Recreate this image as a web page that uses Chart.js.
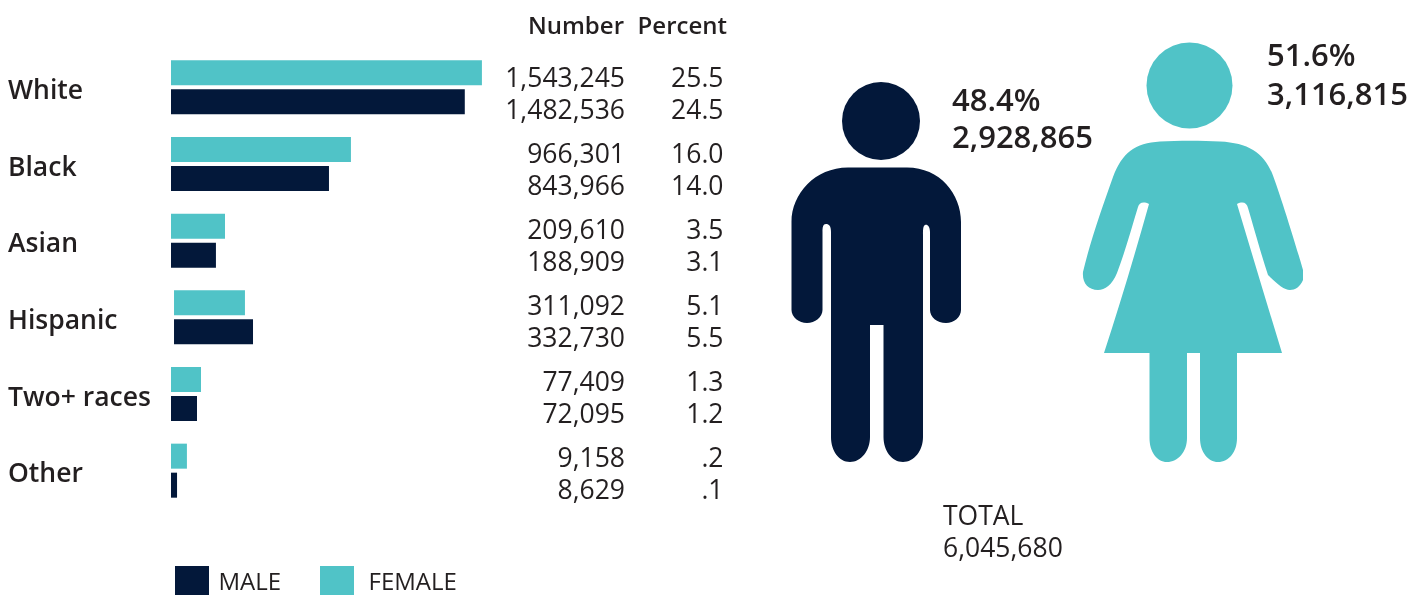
<!DOCTYPE html>
<html>
<head>
<meta charset="utf-8">
<script src="https://cdn.jsdelivr.net/npm/chart.js@4/dist/chart.umd.min.js"></script>
<style>
  html, body { margin: 0; padding: 0; background: #fff; }
  #page { position: relative; width: 1424px; height: 595px; overflow: hidden; font-family: "Open Sans", sans-serif; color: #231f20; }
  #page canvas { position: absolute; left: 0; top: 0; }
  #page svg { position: absolute; left: 0; top: 0; }
  .t { position: absolute; white-space: nowrap; line-height: 1; transform: translateY(-50%); }
  .num { font-size: 26.5px; }
  .head { font-size: 24px; font-weight: 600; }
  .big { font-size: 31px; font-weight: 600; }
  .leg { font-size: 24px; }
  .box { position: absolute; top: 566px; width: 34px; height: 29px; }
</style>
</head>
<body>
<div id="page">
  <canvas id="bars" width="574" height="595"></canvas>
  <svg width="1424" height="595" viewBox="0 0 1424 595">
    <g fill="#03183a">
      <circle cx="881" cy="121" r="39"/>
      <path d="M848 167.5 H907 C940 167.5 961 194 961 222 V310 C961 317 954 323 946 323 C937 323 930 317 930 310 V232 C930 226 927 224 925 225 C923 226 923 230 923 235 V437 C923 451 914 462 903 462 C892 462 883.5 451 883.5 437 V325 H870 V437 C870 451 861 462 850 462 C839 462 831 451 831 437 V232 C831 226 829 224 826 224 C823 224 822.5 227 822.5 232 V310 C822.5 317 815 323 807 323 C799 323 791.5 317 791.5 310 V222 C791.5 194 815 167.5 848 167.5 Z"/>
    </g>
    <g fill="#50c3c7">
      <circle cx="1189.5" cy="85.5" r="43"/>
      <path d="M1160 141.5 C1178 140.5 1202 140.5 1220 141.5 C1248 143 1263 152 1272 173 C1280 194 1295 242 1303 270 V280 C1300 287 1295 290 1290 290 C1284 290 1277 284 1268 275 C1261 254 1254 228 1248 208 C1247 203 1243 201 1237 204 C1252 254 1267 304 1282 353 H1237 V438 C1237 452 1229 462 1218 462 C1208 462 1200 452 1200 438 V353 H1187 V438 C1187 452 1178 462 1167 462 C1157 462 1149.5 452 1149.5 438 V353 H1104 C1120 304 1135 254 1149 204 C1143 201 1139 203 1138 207 C1131 230 1125 252 1117 273 C1112 285 1105 290 1098 290 C1088 290 1082 283 1083 272 C1090 242 1103 205 1113 177 C1122 153 1135 143 1160 141.5 Z"/>
    </g>
  </svg>
  <div id="labels"></div>
</div>
<script>
// rows, top to bottom
var categories = ['White', 'Black', 'Asian', 'Hispanic', 'Two+ races', 'Other'];

// printed columns, each row is female then male
var femaleNumbers = ['1,543,245', '966,301', '209,610', '311,092', '77,409', '9,158'];
var maleNumbers = ['1,482,536', '843,966', '188,909', '332,730', '72,095', '8,629'];
var femalePercent = ['25.5', '16.0', '3.5', '5.1', '1.3', '.2'];
var malePercent = ['24.5', '14.0', '3.1', '5.5', '1.2', '.1'];

// bar lengths as drawn, in thousands. the bars are not
// strictly in proportion to the printed numbers, and Hispanic starts a bit late
var femaleBars = [1543, 893, 268, [15, 367], 149, 79];
var maleBars = [1458, 784, 223, [15, 407], 129, 30];

var totals = { male: ['48.4%', '2,928,865'], female: ['51.6%', '3,116,815'], all: ['TOTAL', '6,045,680'] };
var maleColor = '#03183a';
var femaleColor = '#50c3c7';

var ctx = document.getElementById('bars');
new Chart(ctx, {
  type: 'bar',
  data: {
    labels: categories,
    datasets: [
      { label: 'FEMALE', data: femaleBars, backgroundColor: femaleColor, categoryPercentage: 0.757, barPercentage: 0.862 },
      { label: 'MALE', data: maleBars, backgroundColor: maleColor, categoryPercentage: 0.757, barPercentage: 0.862 }
    ]
  },
  options: {
    indexAxis: 'y',
    responsive: false,
    animation: false,
    layout: { padding: { top: 49, bottom: 86, left: 8, right: 0 } },
    plugins: { legend: { display: false }, tooltip: { enabled: false } },
    scales: {
      x: { display: false, min: 0, max: 2000 },
      y: {
        grid: { display: false },
        border: { display: false },
        afterFit: function (scale) { scale.width = 163; },
        ticks: {
          crossAlign: 'far',
          padding: 8,
          labelOffset: 4,
          color: '#231f20',
          font: { family: '"Open Sans"', size: 26.5, weight: '600' }
        }
      }
    }
  }
});

// the table and the captions are plain text on top of the chart
var labels = document.getElementById('labels');
function addText(text, cls, x, y, right) {
  var d = document.createElement('div');
  d.className = 't ' + cls;
  d.textContent = text;
  d.style.top = y + 'px';
  if (right) d.style.right = (1424 - x) + 'px';
  else d.style.left = x + 'px';
  labels.appendChild(d);
}
addText('Number', 'head', 624, 25, true);
addText('Percent', 'head', 727, 25, true);
categories.forEach(function (c, i) {
  var y = 77 + i * 76;
  addText(femaleNumbers[i], 'num', 625, y, true);
  addText(maleNumbers[i], 'num', 625, y + 32, true);
  addText(femalePercent[i], 'num', 723.5, y, true);
  addText(malePercent[i], 'num', 723.5, y + 32, true);
});
addText(totals.male[0], 'big', 952, 99);
addText(totals.male[1], 'big', 952, 136);
addText(totals.female[0], 'big', 1267, 54);
addText(totals.female[1], 'big', 1267, 93);
addText(totals.all[0], 'num', 943, 514.5);
addText(totals.all[1], 'num', 943, 546.5);

// legend
[['MALE', maleColor, 175, 218.5], ['FEMALE', femaleColor, 320, 368.5]].forEach(function (l) {
  var b = document.createElement('div');
  b.className = 'box';
  b.style.left = l[2] + 'px';
  b.style.background = l[1];
  labels.appendChild(b);
  addText(l[0], 'leg', l[3], 581);
});
</script>
</body>
</html>
